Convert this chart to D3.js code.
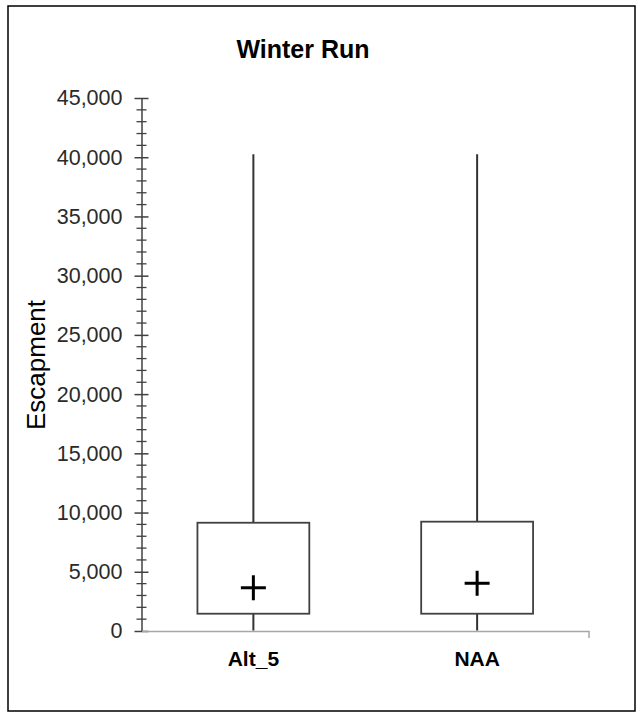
<!DOCTYPE html>
<html><head><meta charset="utf-8">
<script src="https://cdn.jsdelivr.net/npm/d3@7"></script>
<style>body{margin:0;background:#fff}svg{display:block}text{font-family:"Liberation Sans",Arial,sans-serif}</style>
</head><body><svg id="c" width="640" height="717"></svg>
<script>
const categories = ["Alt_5", "NAA"];
const whiskerMin = [50, 50];
const q1 = [1460, 1460];
const q3 = [9140, 9230];
const whiskerMax = [40250, 40250];
const means = [3650, 4030];
const yTicks = [0, 5000, 10000, 15000, 20000, 25000, 30000, 35000, 40000, 45000];
const title = "Winter Run";
const yTitle = "Escapment";

const svg = d3.select("#c");
svg.append("rect").attr("x", 8).attr("y", 6).attr("width", 627).attr("height", 705)
  .attr("fill", "#fff").attr("stroke", "#000").attr("stroke-width", 1.5);

const y = d3.scaleLinear().domain([0, 45000]).range([631, 98]);
const x = d3.scaleBand().domain(categories).range([141.5, 589]).padding(0);
const axisX = 141.5;

// minor ticks
const minor = d3.range(0, 45001, 1000).filter(v => v % 5000 !== 0);
svg.append("g").selectAll("line").data(minor).join("line")
  .attr("x1", axisX - 5).attr("x2", axisX + 5)
  .attr("y1", d => y(d)).attr("y2", d => y(d))
  .attr("stroke", "#404040").attr("stroke-width", 1.3);

// y axis
const gy = svg.append("g").attr("transform", `translate(${axisX},0)`)
  .call(d3.axisLeft(y).tickValues(yTicks).tickFormat(d3.format(",")).tickSizeInner(7).tickSizeOuter(0).tickPadding(12));
gy.select(".domain").attr("stroke", "#404040").attr("stroke-width", 1.5);
gy.selectAll(".tick line").attr("x2", 7).attr("x1", -7).attr("stroke", "#404040").attr("stroke-width", 1.5);
gy.selectAll(".tick text").attr("font-size", 21.5).attr("fill", "#2a2a2a").attr("font-family", "Liberation Sans, Arial, sans-serif");

// x axis
const gx = svg.append("g").attr("transform", `translate(0,${y(0)})`)
  .call(d3.axisBottom(x).tickSize(0).tickPadding(20));
gx.select(".domain").attr("stroke", "#a6a6a6").attr("stroke-width", 1.5);
gx.selectAll(".tick text").attr("font-size", 21).attr("font-weight", "bold").attr("fill", "#000")
  .attr("font-family", "Liberation Sans, Arial, sans-serif");
svg.append("line").attr("x1", x.range()[1]).attr("x2", x.range()[1])
  .attr("y1", y(0)).attr("y2", y(0) + 7).attr("stroke", "#a6a6a6").attr("stroke-width", 1.5);

// boxes
const data = categories.map((c, i) => ({c, lo: whiskerMin[i], q1: q1[i], q3: q3[i], hi: whiskerMax[i], m: means[i]}));
const bw = x.bandwidth() * 0.5;
const g = svg.append("g").selectAll("g").data(data).join("g")
  .attr("transform", d => `translate(${x(d.c) + x.bandwidth() / 2},0)`);
g.append("line").attr("x1", 0).attr("x2", 0).attr("y1", d => y(d.hi)).attr("y2", d => y(d.lo))
  .attr("stroke", "#333").attr("stroke-width", 2);
g.append("rect").attr("x", -bw / 2).attr("width", bw)
  .attr("y", d => y(d.q3)).attr("height", d => y(d.q1) - y(d.q3))
  .attr("fill", "#fff").attr("stroke", "#404040").attr("stroke-width", 1.8);
g.append("line").attr("x1", -12.5).attr("x2", 12.5).attr("y1", d => y(d.m)).attr("y2", d => y(d.m))
  .attr("stroke", "#000").attr("stroke-width", 3);
g.append("line").attr("x1", 0).attr("x2", 0).attr("y1", d => y(d.m) - 12.5).attr("y2", d => y(d.m) + 12.5)
  .attr("stroke", "#000").attr("stroke-width", 3);

svg.append("text").attr("x", 303).attr("y", 58).attr("text-anchor", "middle")
  .attr("font-size", 25).attr("font-weight", "bold").attr("fill", "#000").text(title);
svg.append("text").attr("transform", "translate(45,365) rotate(-90)").attr("text-anchor", "middle")
  .attr("font-size", 26).attr("fill", "#000").text(yTitle);
</script></body></html>
